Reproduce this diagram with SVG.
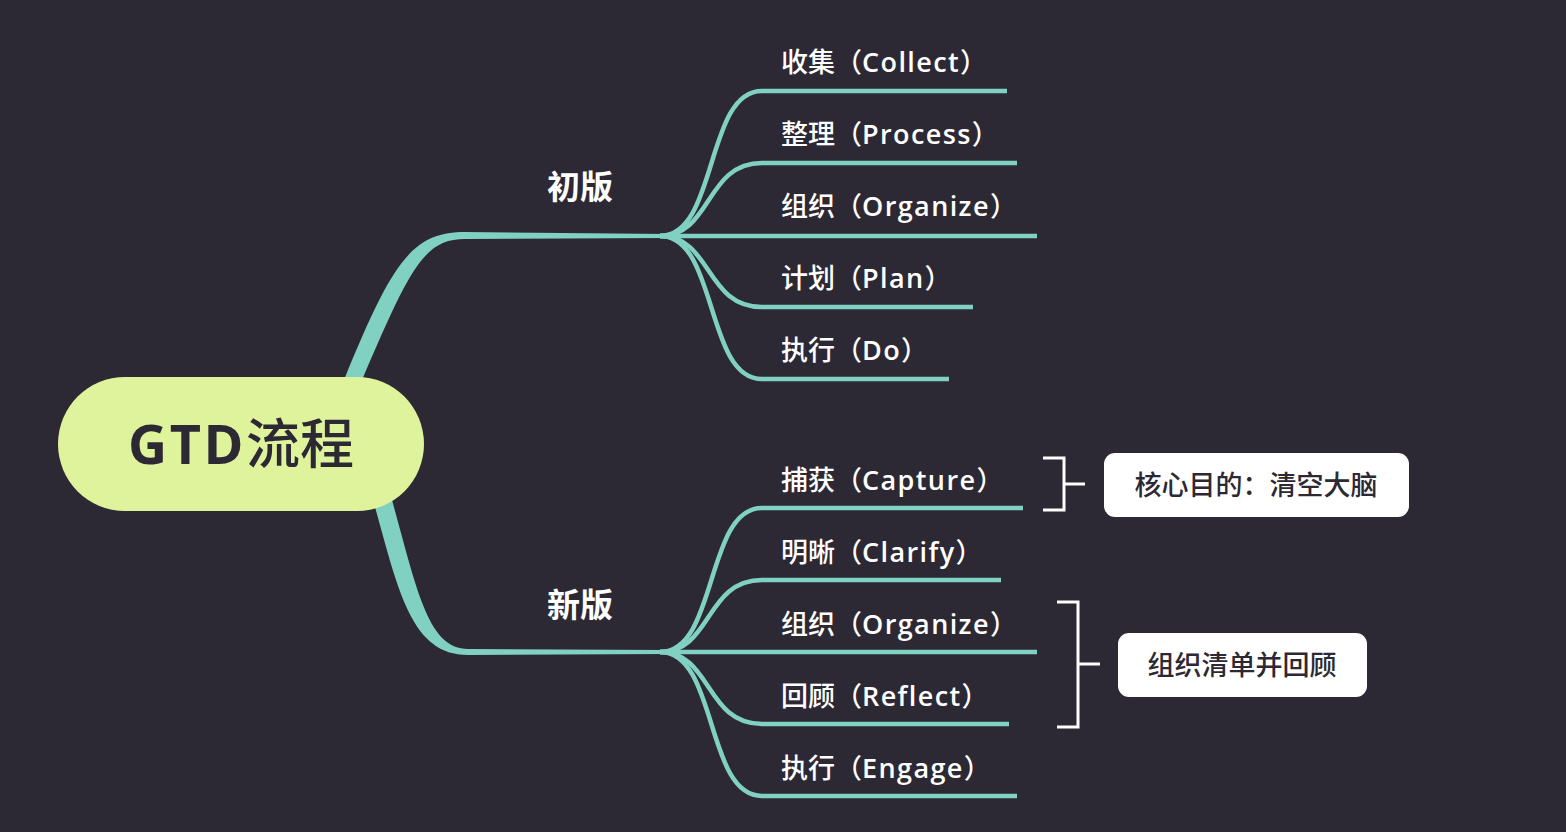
<svg xmlns="http://www.w3.org/2000/svg" width="1566" height="832" viewBox="0 0 1566 832">
<style>
.bg{fill:#2c2934}
.br{fill:#80d1c1}
.leaf{fill:none;stroke:#80d1c1;stroke-width:4.5;stroke-linecap:butt}
.brk{fill:none;stroke:#ffffff;stroke-width:3}
.lbl{font-family:"Open Sans","Noto Sans CJK SC",sans-serif;font-size:27px;fill:#ffffff}
.cn{font-family:"Noto Sans CJK SC",sans-serif;font-weight:500}
.en{font-weight:600;letter-spacing:1.4px}
.mid{font-family:"Noto Sans CJK SC",sans-serif;font-size:33px;font-weight:700;fill:#ffffff;text-anchor:middle}
.box{fill:#ffffff}
.btxt{font-family:"Noto Sans CJK SC",sans-serif;font-size:27px;font-weight:500;fill:#2c2934;text-anchor:middle}
</style>
<rect class="bg" x="0" y="0" width="1566" height="832"/>
<g id="connectors">
<path class="br" d="M344,380 C392,262 412,232 465,232 L668,234 L668,238 L465,239 C424,239 410,268 362,380 Z"/>
<path class="br" d="M373,500 C398,588 410,655 468,655 L668,654 L668,650 L468,649 C428,649 417,590 392,500 Z"/>
<path class="leaf" d="M660,236 C718,236 705,91 762,91 L1007,91"/>
<path class="leaf" d="M660,236 C712,236 705,163 762,163 L1017,163"/>
<path class="leaf" d="M660,236 L1037,236"/>
<path class="leaf" d="M660,236 C712,236 705,307 762,307 L973,307"/>
<path class="leaf" d="M660,236 C718,236 705,379 762,379 L949,379"/>
<path class="leaf" d="M660,652 C718,652 705,508 762,508 L1023,508"/>
<path class="leaf" d="M660,652 C712,652 705,580 762,580 L1001,580"/>
<path class="leaf" d="M660,652 L1037,652"/>
<path class="leaf" d="M660,652 C712,652 705,724 762,724 L1009,724"/>
<path class="leaf" d="M660,652 C718,652 705,796 762,796 L1017,796"/>
<path class="brk" d="M1043,458 L1064,458 L1064,510 L1043,510 M1064,484 L1085,484"/>
<path class="brk" d="M1057,602 L1078,602 L1078,727 L1057,727 M1078,664 L1100,664"/>
</g>
<g id="root">
<rect x="58" y="377" width="366" height="134" rx="67" ry="67" fill="#dff29c"/>
<text x="241" y="464" text-anchor="middle" style="font-family:'Open Sans','Noto Sans CJK SC',sans-serif;font-size:54px;font-weight:700;fill:#2c2934"><tspan letter-spacing="2.5">GTD</tspan><tspan class="cn" font-weight="700">流程</tspan></text>
</g>
<g id="branch-old"><text class="mid" x="580" y="199">初版</text></g>
<g id="branch-new"><text class="mid" x="580" y="617">新版</text></g>
<g id="n-collect"><text class="lbl" x="781" y="72"><tspan class="cn">收集（</tspan><tspan class="en">Collect</tspan><tspan class="cn">）</tspan></text></g>
<g id="n-process"><text class="lbl" x="781" y="144"><tspan class="cn">整理（</tspan><tspan class="en">Process</tspan><tspan class="cn">）</tspan></text></g>
<g id="n-organize1"><text class="lbl" x="781" y="216"><tspan class="cn">组织（</tspan><tspan class="en">Organize</tspan><tspan class="cn">）</tspan></text></g>
<g id="n-plan"><text class="lbl" x="781" y="288"><tspan class="cn">计划（</tspan><tspan class="en">Plan</tspan><tspan class="cn">）</tspan></text></g>
<g id="n-do"><text class="lbl" x="781" y="360"><tspan class="cn">执行（</tspan><tspan class="en">Do</tspan><tspan class="cn">）</tspan></text></g>
<g id="n-capture"><text class="lbl" x="781" y="490"><tspan class="cn">捕获（</tspan><tspan class="en">Capture</tspan><tspan class="cn">）</tspan></text></g>
<g id="n-clarify"><text class="lbl" x="781" y="562"><tspan class="cn">明晰（</tspan><tspan class="en">Clarify</tspan><tspan class="cn">）</tspan></text></g>
<g id="n-organize2"><text class="lbl" x="781" y="634"><tspan class="cn">组织（</tspan><tspan class="en">Organize</tspan><tspan class="cn">）</tspan></text></g>
<g id="n-reflect"><text class="lbl" x="781" y="706"><tspan class="cn">回顾（</tspan><tspan class="en">Reflect</tspan><tspan class="cn">）</tspan></text></g>
<g id="n-engage"><text class="lbl" x="781" y="778"><tspan class="cn">执行（</tspan><tspan class="en">Engage</tspan><tspan class="cn">）</tspan></text></g>
<g id="note1">
<rect class="box" x="1104" y="453" width="305" height="64" rx="11"/>
<text class="btxt" x="1256" y="495">核心目的：清空大脑</text>
</g>
<g id="note2">
<rect class="box" x="1118" y="633" width="249" height="64" rx="11"/>
<text class="btxt" x="1242" y="675">组织清单并回顾</text>
</g>
</svg>
